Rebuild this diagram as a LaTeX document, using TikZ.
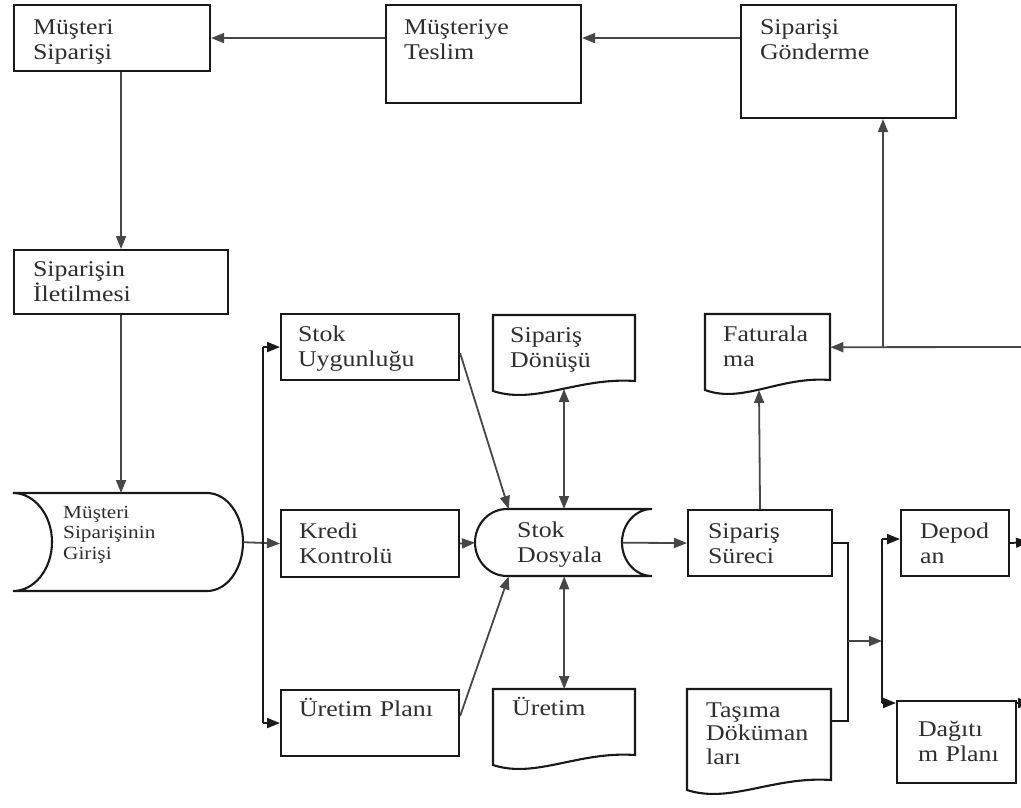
\documentclass[tikz,border=0pt]{standalone}
\usepackage{fontspec}
\setmainfont[FakeStretch=1.15]{Liberation Serif}
\usetikzlibrary{arrows.meta}
\tikzset{
  frame/.style={draw=black!90, line width=2.1pt},
  lbl/.style={anchor=north west, inner ysep=0pt, align=left,
    font=\fontsize{22.5}{25.5}\selectfont, text=black!82},
  boxed/.style={lbl, frame},
  conn/.style={draw=black!72, line width=1.8pt},
  arr/.style={conn, -{Triangle[length=13pt,width=10pt]}},
  darr/.style={conn, {Triangle[length=13pt,width=10pt]}-{Triangle[length=13pt,width=10pt]}},
}
% document symbol: left, top, width, height of the straight right edge
\newcommand\docpath[4]{%
  \draw[frame] (#1+#3,#2+#4) -- (#1+#3,#2) -- (#1,#2) -- (#1,#2+#4+10)
    .. controls (#1+0.3*#3,#2+#4+24) and (#1+0.6*#3,#2+#4-4) .. cycle;}
\begin{document}
\begin{tikzpicture}[x=1pt, y=-1pt]
\useasboundingbox (0,0) rectangle (1021,807);

% top row
\node[boxed, minimum width=196pt, inner xsep=19pt, text width=158pt, text height=29pt, text depth=37pt] (ms) at (13,4) {Müşteri\\Siparişi};
\node[boxed, minimum width=195pt, inner xsep=18pt, text width=159pt, text height=29pt, text depth=69pt] (teslim) at (385,4) {Müşteriye\\Teslim};
\node[boxed, minimum width=215pt, inner xsep=19pt, text width=177pt, text height=29pt, text depth=84pt] (gond) at (740,4) {Siparişi\\Gönderme};

% left column
\node[boxed, minimum width=214pt, inner xsep=19pt, text width=176pt, text height=26pt, text depth=38pt] (sipin) at (13,249) {Siparişin\\İletilmesi};
\node[lbl, font=\fontsize{18.5}{20.5}\selectfont, minimum width=230pt, inner xsep=50pt, text width=130pt, text height=25pt, text depth=73pt] (giris) at (13,493) {Müşteri\\Siparişinin\\Girişi};
\draw[frame] (13,493) -- (207,493) .. controls (227,493) and (243,515) .. (243,542)
  .. controls (243,569) and (227,591) .. (207,591) -- (13,591)
  .. controls (34.5,591) and (52,569) .. (52,542)
  .. controls (52,515) and (34.5,493) .. cycle;

% checks
\node[boxed, minimum width=178pt, inner xsep=17pt, text width=144pt, text height=27pt, text depth=39pt] (uyg) at (280,313) {Stok\\Uygunluğu};
\node[boxed, minimum width=178pt, inner xsep=18pt, text width=142pt, text height=28pt, text depth=39pt] (kredi) at (280,509) {Kredi\\Kontrolü};
\node[boxed, minimum width=178pt, inner xsep=18pt, text width=142pt, text height=26pt, text depth=40pt] (plan) at (280,689) {Üretim~Planı};

% stock files
\node[lbl, minimum width=177pt, inner xsep=42pt, text width=93pt, text height=28pt, text depth=39pt] (dosya) at (475,509) {Stok\\Dosyala};
\draw[frame] (507,509) -- (652,509) .. controls (635.4,509) and (622,524) .. (622,542.5)
  .. controls (622,561) and (635.4,576) .. (652,576) -- (507,576)
  .. controls (489.3,576) and (475,561) .. (475,542.5)
  .. controls (475,524) and (489.3,509) .. cycle;

% documents
\node[lbl, minimum width=142pt, inner xsep=17pt, text width=108pt, text height=27pt, text depth=39pt] (don) at (493,315) {Sipariş\\Dönüşü};
\docpath{493}{315}{142}{66}
\node[lbl, minimum width=142pt, inner xsep=19pt, text width=104pt, text height=26pt, text depth=40pt] (uret) at (493,689) {Üretim};
\docpath{493}{689}{142}{66}
\node[lbl, minimum width=125pt, inner xsep=18pt, text width=89pt, text height=27pt, text depth=39pt] (fat) at (705,314) {Faturala\\ma};
\docpath{705}{314}{125}{66}
\node[lbl, font=\fontsize{22.5}{23.5}\selectfont, minimum width=144pt, inner xsep=19pt, text width=106pt, text height=28pt, text depth=63pt] (tas) at (687,689) {Taşıma\\Döküman\\ları};
\docpath{687}{689}{144}{91}

% order process and outputs
\node[boxed, minimum width=144pt, inner xsep=20pt, text width=104pt, text height=28pt, text depth=38pt] (sureci) at (687,509) {Sipariş\\Süreci};
\node[boxed, minimum width=108pt, inner xsep=19pt, text width=70pt, text height=28pt, text depth=38pt] (dep) at (900,509) {Depod\\an};
\node[boxed, minimum width=119pt, inner xsep=21pt, text width=77pt, text height=35pt, text depth=47pt] (dag) at (896,700) {Dağıtı\\m~Planı};

% helper points
\coordinate (bus) at (263,542);
\coordinate (don-b) at (564,389);
\coordinate (fat-b) at (759,390);
\coordinate (edge-r) at (1026,347);
\coordinate (jn) at (883,347);
\coordinate (jx) at (848,641);
\coordinate (b2) at (882,641);
\coordinate (dep-in) at ([yshift=4pt]dep.west);
\coordinate (dag-in) at ([yshift=-3pt]dag.north west);
\coordinate (dep-out) at (1029,542);
\coordinate (dag-out) at (1031,703);

% connectors
\draw[arr] (teslim.west |- ms.east) -- (ms.east);
\draw[arr] (gond.west |- ms.east) -- (teslim.east |- ms.east);
\draw[arr] (ms.south -| sipin.north) -- (sipin.north);
\draw[arr] (sipin.south) -- (sipin.south |- giris.north);
\draw[arr] (giris.east) -- (kredi.west);
\draw[conn, black!90] (bus |- uyg.west) -- (bus |- plan.west);
\draw[arr, black!90] (bus |- uyg.west) -- (uyg.west);
\draw[arr, black!90] (bus |- plan.west) -- (plan.west);
\draw[arr] ([yshift=-6pt]uyg.east) -- ([xshift=-55pt]dosya.north);
\draw[arr] ([yshift=7pt]plan.east) -- ([xshift=-55pt]dosya.south);
\draw[arr] (kredi.east) -- (dosya.west);
\draw[darr] (don-b) -- (don-b |- dosya.north);
\draw[darr] (uret.north) -- (uret.north |- dosya.south);
\draw[arr] ([xshift=-30pt]dosya.east) -- (sureci.west);
\draw[arr] (sureci.north) -- (fat-b);
\draw[arr] (edge-r) -- (fat.east);
\draw[arr] (jn) -- (jn |- gond.south);
\draw[conn, black!90] (sureci.east) -| (jx) |- ([yshift=13.5pt]tas.east);
\draw[arr] (jx) -- (b2);
\draw[conn, black!90] (b2 |- dep-in) -- (b2 |- dag-in);
\draw[arr, black!90] (b2 |- dep-in) -- (dep-in);
\draw[arr, black!90] (b2 |- dag-in) -- (dag-in);
\draw[arr, black!90] (dep.east) -- (dep-out);
\draw[arr, black!90] (dag.north east |- dag-in) -- (dag-out);
\end{tikzpicture}
\end{document}
